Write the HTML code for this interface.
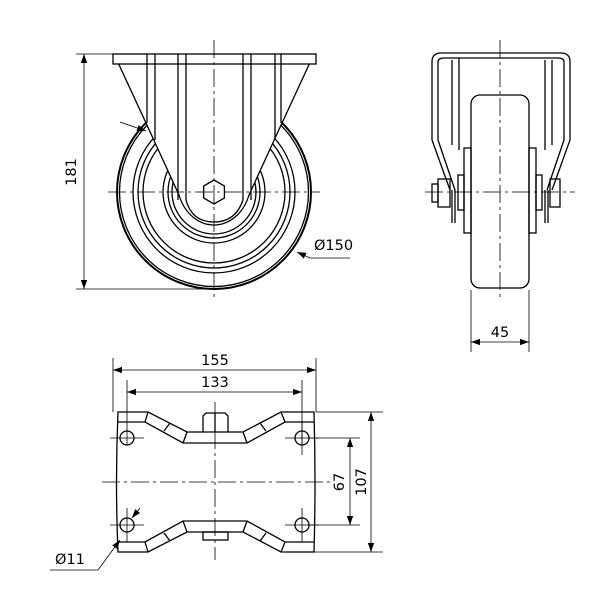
<!DOCTYPE html>
<html><head><meta charset="utf-8"><style>
html,body{margin:0;padding:0;background:#fff;}
svg{display:block}
text{font-family:"DejaVu Sans","Liberation Sans",sans-serif;font-size:14.5px;fill:#000}
</style></head><body>
<svg width="600" height="610" viewBox="0 0 600 610" xmlns="http://www.w3.org/2000/svg">
<defs>
<marker id="a" viewBox="0 0 10 10" refX="10" refY="5" markerWidth="9" markerHeight="9" orient="auto-start-reverse" markerUnits="userSpaceOnUse"><path d="M0,1.5 L10,5 L0,8.5 Z" fill="#000"/></marker>
</defs>
<g fill="none" stroke="#000" stroke-width="1.3">
<!-- FRONT VIEW -->
<circle cx="214" cy="192" r="97" stroke-width="2"/>
<circle cx="214" cy="192" r="94.5"/>
<circle cx="214" cy="192" r="81"/>
<circle cx="214" cy="192" r="76"/>
<circle cx="214" cy="192" r="71"/>
<circle cx="214" cy="192" r="51"/>
<circle cx="214" cy="192" r="46"/>
<circle cx="214" cy="192" r="42"/>
<path d="M115,56 L146,123 L179,195 C185,215 200,225 214,225 C228,225 243,215 249,195 L282,123 L313,56 Z" fill="#fff"/>
<rect x="113" y="54" width="203" height="10" fill="#fff"/>
<path d="M147,54 V123 M155,54 V140 M178,54 V200 M186,54 V200 M243,54 V200 M251,54 V200 M275,54 V140 M281,54 V123"/>
<path d="M186,200 C190,215 200,222 214,222 C228,222 238,215 243,200"/>
<polygon points="214,180 224.4,186 224.4,198 214,204 203.6,198 203.6,186" fill="#fff"/>
<g stroke-width="0.8">
<path d="M76,54 H113 M76,289 H214"/>
<path d="M84,54 V289" marker-start="url(#a)" marker-end="url(#a)"/>
<path d="M120,122 L146,131" marker-end="url(#a)"/>
<path d="M350,258 H310 L297,252" marker-end="url(#a)"/>
<path d="M214,40 V300" stroke-dasharray="18,4,3,4"/>
<path d="M108,192 H320" stroke-dasharray="18,4,3,4"/>
</g>
<!-- SIDE VIEW -->
<path d="M432,140 V62 Q432,53 441,53 H561 Q570,53 570,62 V140 L552,190"/>
<path d="M432,140 L450,190"/>
<path d="M438,140 V62 Q438,58 444,58 H558 Q564,58 564,62 V140 M438,140 L455,190 M564,140 L547,190"/>
<path d="M452,60 V145 M459,58 V150 M545,60 V150 M552,60 V145"/>
<rect x="471" y="95" width="58" height="193" rx="9"/>
<rect x="464" y="148" width="7" height="85"/>
<rect x="529" y="148" width="7" height="85"/>
<rect x="458" y="175" width="6" height="35"/>
<rect x="536" y="175" width="6" height="35"/>
<rect x="438" y="179" width="12" height="28"/>
<rect x="432" y="184" width="6" height="18"/>
<rect x="550" y="179" width="10" height="28"/>
<path d="M452,190 V223 M455,190 V223 M545,190 V223 M548,190 V223"/>
<g stroke-width="0.8">
<path d="M500,40 V300" stroke-dasharray="18,4,3,4"/>
<path d="M425,192 H575" stroke-dasharray="18,4,3,4"/>
<path d="M471,290 V352 M529,290 V352"/>
<path d="M471,342 H529" marker-start="url(#a)" marker-end="url(#a)"/>
</g>
<!-- BOTTOM VIEW -->
<path d="M118,412 H148 L187,432 H243 L281,412 H314 Q316,482 314,552 H281 L243,532 H187 L148,552 H118 Q115,482 118,412 Z"/>
<path d="M118,422 H145 L183,443 H247 L285,422 H314 M118,542 H145 L183,521 H247 L285,542 H314"/>
<path d="M148,412 L145,422 M170,423 L164,431 M187,432 L183,443 M243,432 L247,443 M260,423 L266,431 M281,412 L285,422"/>
<path d="M148,552 L145,542 M170,541 L164,533 M187,532 L183,521 M243,532 L247,521 M260,541 L266,533 M281,552 L285,542"/>
<path d="M203,432 V416 L206,413 H225 L228,416 V432 M215,413 V432"/>
<rect x="203" y="532" width="25" height="8"/>
<circle cx="127" cy="438" r="7"/><circle cx="302" cy="438" r="7"/>
<circle cx="127" cy="525" r="7"/><circle cx="302" cy="525" r="7"/>
<g stroke-width="0.8">
<path d="M113,358 V412 M316,358 V412 M127,380 V445 M302,380 V445"/>
<path d="M113,370 H316" marker-start="url(#a)" marker-end="url(#a)"/>
<path d="M127,392 H302" marker-start="url(#a)" marker-end="url(#a)"/>
<path d="M316,412 H383 M314,552 H383 M309,438 H360 M309,525 H360"/>
<path d="M350,438 V525" marker-start="url(#a)" marker-end="url(#a)"/>
<path d="M371,412 V552" marker-start="url(#a)" marker-end="url(#a)"/>
<path d="M215,402 V560 M102,482 H330" stroke-dasharray="18,4,3,4"/>
<path d="M110,438 H144 M110,525 H144 M285,438 H319 M285,525 H319 M127,508 V542 M302,421 V455 M302,508 V542"/>
<path d="M50,570 H98 L120,540" marker-end="url(#a)"/>
<path d="M140,508 L132,518" marker-end="url(#a)"/>
</g>
</g>
<text x="76" y="172" transform="rotate(-90 76 172)" text-anchor="middle">181</text>
<text x="314" y="250">Ø150</text>
<text x="500" y="337" text-anchor="middle">45</text>
<text x="215" y="365" text-anchor="middle">155</text>
<text x="215" y="387" text-anchor="middle">133</text>
<text x="344" y="482" transform="rotate(-90 344 482)" text-anchor="middle">67</text>
<text x="366" y="482" transform="rotate(-90 366 482)" text-anchor="middle">107</text>
<text x="55" y="564">Ø11</text>
</svg>
</body></html>
